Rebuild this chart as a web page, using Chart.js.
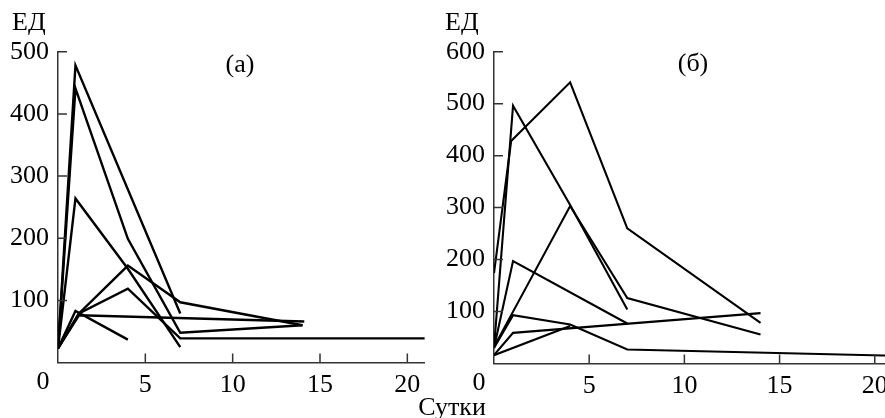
<!DOCTYPE html>
<html lang="ru">
<head>
<meta charset="UTF-8">
<title>ЕД по суткам</title>
<!-- Chart.js library -->
<script src="https://cdn.jsdelivr.net/npm/chart.js"></script>
<style>
    body { margin: 0; background: #fff; }
    /* page is exactly the window, panel (б) runs past the right edge */
    #page { position: relative; width: 885px; height: 418px; overflow: hidden; background: #fff; }
    canvas { position: absolute; top: 0; }
    #chartA { left: 0; }
    #chartB { left: 440px; }
    .lbl {
        position: absolute;
        font-family: "Liberation Serif", "Times New Roman", serif;
        font-size: 26px;
        line-height: 26px;
        color: #000;
        white-space: nowrap;
    }
</style>
</head>
<body>
<div id="page">
    <canvas id="chartA" width="440" height="418"></canvas>
    <canvas id="chartB" width="470" height="418"></canvas>
    <div class="lbl" style="left:12px; top:8.5px;">ЕД</div>
    <div class="lbl" style="left:445px; top:8.5px;">ЕД</div>
    <div class="lbl" style="left:240px; top:51px; transform:translateX(-50%);">(а)</div>
    <div class="lbl" style="left:693px; top:50px; transform:translateX(-50%);">(б)</div>
    <div class="lbl" style="left:452px; top:393.5px; transform:translateX(-50%);">Сутки</div>
</div>

<script>
    // Panel (а): days and ЕД values, one pair of arrays per curve
    const daysA1 = [0, 1, 7],            valsA1 = [23, 478, 79];
    const daysA2 = [0, 1, 4, 7, 14],     valsA2 = [23, 441, 199, 48, 60];
    const daysA3 = [0, 1, 4, 7],         valsA3 = [23, 264, 151, 25];
    const daysA4 = [0, 1.2, 4, 7, 14],   valsA4 = [23, 79, 156, 97, 60];
    const daysA5 = [0, 1.2, 4, 7, 21],   valsA5 = [23, 79, 119, 39, 39];
    const daysA6 = [0, 1, 4],            valsA6 = [23, 83, 37];
    const daysA7 = [0, 1.2, 14.1],       valsA7 = [23, 76, 66];

    // Panel (б)
    const daysB1 = [0, 0.9, 4, 7, 14],   valsB1 = [174, 428, 541, 260, 78];
    const daysB2 = [0, 1, 4, 7],         valsB2 = [30, 496, 305, 104];
    const daysB3 = [0, 4, 7, 14],        valsB3 = [32, 303, 126, 56];
    const daysB4 = [0, 1, 7],            valsB4 = [30, 197, 77];
    const daysB5 = [0, 1, 14],           valsB5 = [16, 59, 97];
    const daysB6 = [0, 1, 4, 7, 21],     valsB6 = [30, 93, 75, 27, 15];
    const daysB7 = [0, 4],               valsB7 = [16, 72];

    // Tick labels
    const xTickDays = [5, 10, 15, 20];
    const yTicksA = [100, 200, 300, 400, 500];
    const yTicksB = [100, 200, 300, 400, 500, 600];

    const serif = '"Liberation Serif", "Times New Roman", serif';
    const fontSize = 26;
    const axisColor = '#333';

    function curve(days, vals, width) {
        return {
            data: days.map((d, i) => ({ x: d, y: vals[i] })),
            borderColor: '#000',
            borderWidth: width,
            pointRadius: 0,
            fill: false,
            tension: 0
        };
    }

    // ticks point inward and the shared "0" sits at the corner, so draw those here
    const innerTicks = {
        id: 'innerTicks',
        afterDraw(chart) {
            const ctx = chart.ctx;
            const xs = chart.scales.x, ys = chart.scales.y;
            const bottom = chart.chartArea.bottom, left = chart.chartArea.left;
            ctx.save();
            ctx.strokeStyle = axisColor;
            ctx.lineWidth = 1.5;
            ctx.beginPath();
            xs.ticks.forEach(t => {
                const px = xs.getPixelForValue(t.value);
                ctx.moveTo(px, bottom);
                ctx.lineTo(px, bottom - 9);
            });
            ys.ticks.forEach(t => {
                const py = ys.getPixelForValue(t.value);
                ctx.moveTo(left, py);
                ctx.lineTo(left + 9, py);
            });
            ctx.stroke();
            ctx.fillStyle = '#000';
            ctx.font = fontSize + 'px ' + serif;
            ctx.textAlign = 'center';
            ctx.textBaseline = 'top';
            ctx.fillText('0', xs.getPixelForValue(0) - 15, bottom + 7);
            ctx.restore();
        }
    };

    function makeChart(id, datasets, yMax, yTicks, yWidth, pad, xHeight) {
        return new Chart(document.getElementById(id), {
            type: 'line',
            data: { datasets: datasets },
            options: {
                responsive: false,
                animation: false,
                events: [],
                layout: { padding: pad },
                plugins: { legend: { display: false }, tooltip: { enabled: false } },
                scales: {
                    x: {
                        type: 'linear',
                        min: 0,
                        max: 21,
                        afterBuildTicks: s => { s.ticks = xTickDays.map(v => ({ value: v })); },
                        afterFit: s => { s.height = xHeight; },
                        grid: { display: true, drawOnChartArea: false, drawTicks: false },
                        border: { display: true, color: axisColor, width: 1.5 },
                        ticks: { color: '#000', padding: 7, maxRotation: 0, font: { family: serif, size: fontSize } }
                    },
                    y: {
                        min: 0,
                        max: yMax,
                        afterBuildTicks: s => { s.ticks = yTicks.map(v => ({ value: v })); },
                        afterFit: s => { s.width = yWidth; },
                        grid: { display: true, drawOnChartArea: false, drawTicks: false },
                        border: { display: true, color: axisColor, width: 1.5 },
                        ticks: { color: '#000', padding: 9, font: { family: serif, size: fontSize } }
                    }
                }
            },
            plugins: [innerTicks]
        });
    }

    makeChart('chartA', [
        curve(daysA1, valsA1, 2.4), curve(daysA2, valsA2, 2.4), curve(daysA3, valsA3, 2.4),
        curve(daysA4, valsA4, 2.4), curve(daysA5, valsA5, 2.4), curve(daysA6, valsA6, 2.4),
        curve(daysA7, valsA7, 2.4)
    ], 500, yTicksA, 58, { top: 51.7, right: 15.2, left: 0, bottom: 0 }, 55.4);

    makeChart('chartB', [
        curve(daysB1, valsB1, 2.1), curve(daysB2, valsB2, 2.1), curve(daysB3, valsB3, 2.1),
        curve(daysB4, valsB4, 2.1), curve(daysB5, valsB5, 2.1), curve(daysB6, valsB6, 2.1),
        curve(daysB7, valsB7, 2.1)
    ], 600, yTicksB, 54, { top: 51.7, right: 16.2, left: 0, bottom: 0 }, 54.5);
</script>
</body>
</html>
